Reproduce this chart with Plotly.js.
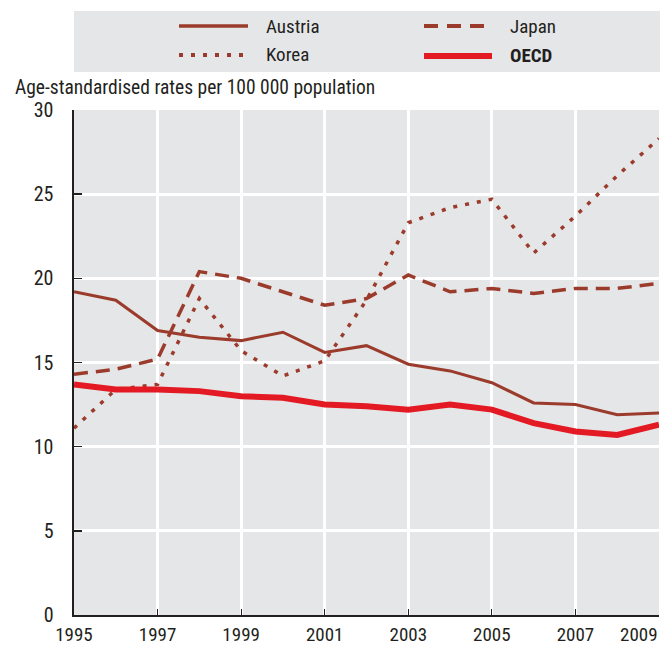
<!DOCTYPE html>
<html>
<head>
<meta charset="utf-8">
<script src="https://cdn.plot.ly/plotly-3.0.1.min.js"></script>
<style>
html,body{margin:0;padding:0;background:#fff;}
#chart{width:671px;height:647px;}
</style>
</head>
<body>
<div id="chart"></div>
<script>
const years = [1995,1996,1997,1998,1999,2000,2001,2002,2003,2004,2005,2006,2007,2008,2009];
const austria = [19.2,18.7,16.9,16.5,16.3,16.8,15.6,16.0,14.9,14.5,13.8,12.6,12.5,11.9,12.0];
const japan   = [14.3,14.6,15.2,20.4,20.0,19.2,18.4,18.8,20.2,19.2,19.4,19.1,19.4,19.4,19.7];
const korea   = [11.1,13.4,13.7,18.8,15.7,14.2,15.1,18.7,23.3,24.2,24.7,21.5,23.7,26.1,28.3];
const oecd    = [13.7,13.4,13.4,13.3,13.0,12.9,12.5,12.4,12.2,12.5,12.2,11.4,10.9,10.7,11.3];
const seriesNames = ["Austria","Japan","Korea","OECD"];
const xTickVals = [1995,1997,1999,2001,2003,2005,2007];
const xTickText = ["1995","1997","1999","2001","2003","2005","2007"];
const xLastTick = 2009;
const xLastTickText = "2009";
const yTickVals = [0,5,10,15,20,25,30];
const yAxisTitle = "Age-standardised rates per 100 000 population";

const brown = "#9b3b2b";
const red = "#e31a23";
const FONT = "'Liberation Sans Narrow', 'Arial Narrow', 'Roboto Condensed', Roboto, sans-serif";
const TXT = "#231f20";

const seriesData = [austria, japan, korea, oecd];
const styles = [
  {color: brown, width: 3, dash: "solid"},
  {color: brown, width: 3.5, dash: "14px,8px"},
  {color: brown, width: 3.5, dash: "4px,8px"},
  {color: red, width: 6, dash: "solid"}
];

const traces = seriesData.map((vals, i) => ({
  x: years, y: vals, name: seriesNames[i], type: "scatter", mode: "lines",
  line: {color: styles[i].color, width: styles[i].width, dash: styles[i].dash},
  showlegend: false, hoverinfo: "skip"
}));

// plot spans x 74..659, y 110..615
const W = 671, H = 647, L = 74, R = 659, T = 110, B = 615;
const px = x => (x - L) / (R - L);
const py = y => (B - y) / (B - T);

const legendPos = [
  {x0: 179, x1: 248, y: 26, tx: 264},
  {x0: 424, x1: 492, y: 26, tx: 508},
  {x0: 179, x1: 248, y: 55, tx: 264},
  {x0: 424, x1: 492, y: 56, tx: 508}
];

const shapes = [{
  type: "rect", xref: "paper", yref: "paper",
  x0: px(74), x1: px(660), y0: py(72), y1: py(11),
  fillcolor: "#e5e6e8", line: {width: 0}, layer: "below"
}];
const annotations = [];
legendPos.forEach((p, i) => {
  shapes.push({
    type: "line", xref: "paper", yref: "paper",
    x0: px(p.x0), x1: px(p.x1), y0: py(p.y), y1: py(p.y),
    line: {color: styles[i].color, width: i === 3 ? 6 : (i === 0 ? 3.5 : 4), dash: i === 1 ? "14px,9px" : (i === 2 ? "4px,8px" : "solid")}
  });
  annotations.push({
    xref: "paper", yref: "paper", x: px(p.tx), y: py(p.y), xanchor: "left", yanchor: "middle",
    text: i === 3 ? "<b>" + seriesNames[i] + "</b>" : seriesNames[i], showarrow: false,
    font: {family: FONT, size: 19, color: TXT}
  });
});
annotations.push({
  xref: "paper", yref: "paper", x: px(13), y: py(88), xanchor: "left", yanchor: "middle",
  text: yAxisTitle, showarrow: false, font: {family: FONT, size: 19.5, color: TXT}
});
annotations.push({
  xref: "x", yref: "paper", x: xLastTick, y: 0, xanchor: "right", yanchor: "top",
  yshift: -6, xshift: 1,
  text: xLastTickText, showarrow: false, font: {family: FONT, size: 19, color: TXT}
});

const layout = {
  width: W, height: H,
  margin: {l: L, r: W - R, t: T, b: H - B, pad: 0},
  paper_bgcolor: "#ffffff", plot_bgcolor: "#e5e6e8",
  font: {family: FONT, size: 20, color: TXT},
  showlegend: false,
  xaxis: {
    range: [1995, 2009], tickvals: xTickVals, ticktext: xTickText,
    tickfont: {family: FONT, size: 19, color: TXT},
    showgrid: true, gridcolor: "#ffffff", gridwidth: 3,
    ticks: "inside", ticklen: 6, tickcolor: TXT, tickwidth: 1,
    showline: true, linecolor: TXT, linewidth: 2,
    zeroline: false, fixedrange: true, ticklabelstandoff: 1
  },
  yaxis: {
    range: [0, 30], tickvals: yTickVals,
    showgrid: true, gridcolor: "#ffffff", gridwidth: 3,
    ticks: "inside", ticklen: 8, tickcolor: TXT, tickwidth: 1.5,
    showline: true, linecolor: TXT, linewidth: 2.5,
    zeroline: false, fixedrange: true, ticklabelstandoff: 14
  },
  shapes: shapes,
  annotations: annotations
};

Plotly.newPlot("chart", traces, layout, {staticPlot: true, displayModeBar: false});
</script>
</body>
</html>
